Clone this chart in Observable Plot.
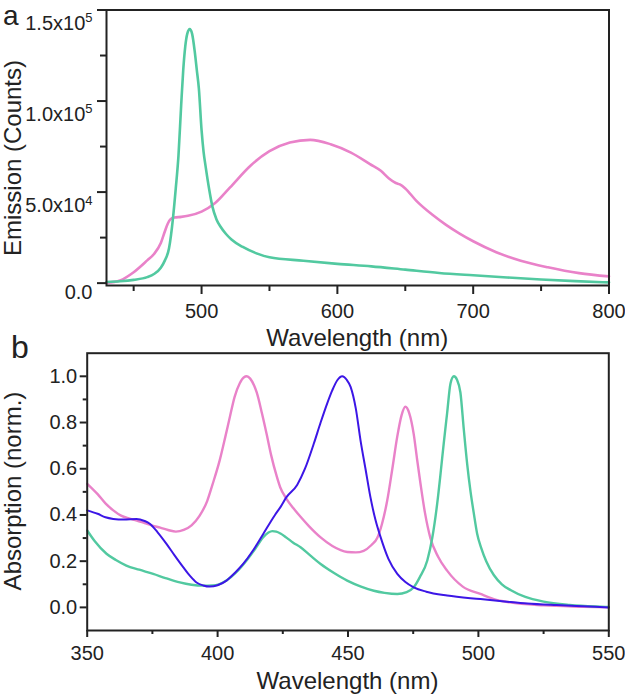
<!DOCTYPE html>
<html><head><meta charset="utf-8">
<script src="https://cdn.jsdelivr.net/npm/d3@7"></script>
<script src="https://cdn.jsdelivr.net/npm/@observablehq/plot@0.6"></script>
<style>
body{margin:0;background:#fff;}
#wrap{position:relative;width:625px;height:696px;font-family:"Liberation Sans",Arial,sans-serif;color:#222;overflow:hidden;}
.lab{position:absolute;white-space:nowrap;line-height:1.15;}
.panel{position:absolute;left:0;}
</style></head><body><div id="wrap"></div>
<script>
// ---------- Panel a: emission ----------
const emGreenNm = [430,440,450,460,465,470,473,476,479,481,483,485,486.5,488,489.5,491.3,493,495,496.5,498,500,501.5,503,505.5,508,511,514,518,522,530,540,550,575,600,625,650,675,700,725,750,775,800];
const emGreenCounts = [600,1000,1800,3300,5000,8500,12500,19000,36000,52000,70000,98000,117000,130000,137000,139500,137000,127000,117000,107000,84000,72000,64000,52000,42000,35000,31000,27000,24000,20000,16500,14200,12300,10600,9200,7400,5600,4300,3100,2000,1100,400];
const emPinkNm = [430,440,450,460,465,470,473,475,477,480,485,490,500,510,521,536,550,565,580,595,610,624,632,638,643,646,650,658,670,680,690,700,717,735,755,778,800];
const emPinkCounts = [200,1500,6000,12500,16000,22000,28500,32500,35000,36000,36400,37000,39300,44000,52600,64500,72500,77200,78700,76300,71700,65400,61700,57500,55000,54200,52000,45300,37500,32000,27200,23000,17000,12300,8700,5500,3700];

const xTicksA = [500,600,700,800];
const xMinorA = [450,550,650,750];
const yTicksA = [0,50000,100000,150000];
const yTickLabelsA = ["0.0","5.0x10^4","1.0x10^5","1.5x10^5"];
const yMinorA = [25000,75000,125000];

// ---------- Panel b: absorption ----------
const absPinkNm = [350,354,357,360,363,366,369,372,375,378,381,384,387,390,393,396,398,400.8,403,404.7,406.5,408.5,410,411.2,412.5,414,415,417,418.8,420.5,422.6,424,426.4,429,431.8,435,439.5,444,449.7,453,456,459,461.2,463,465,467,468.9,470.5,472,473.5,475.2,476.5,477.8,479.5,481.6,484.5,488,494,500.8,505.9,512,525,540,550];
const absPinkVal = [0.535,0.49,0.45,0.42,0.397,0.385,0.376,0.365,0.354,0.345,0.335,0.328,0.335,0.355,0.395,0.46,0.53,0.636,0.74,0.824,0.91,0.97,0.995,1.0,0.99,0.96,0.93,0.84,0.75,0.66,0.57,0.52,0.47,0.43,0.392,0.352,0.303,0.266,0.24,0.238,0.245,0.27,0.30,0.36,0.46,0.6,0.74,0.83,0.868,0.84,0.75,0.64,0.535,0.41,0.30,0.22,0.159,0.09,0.058,0.036,0.022,0.009,0.003,0.0];
const absBlueNm = [350,354,357,360,364,368.9,372,374,377,380.4,383.5,386.8,389.5,391.9,394.5,397,400,403.4,406.5,409.8,413.5,417.5,422,424.1,426.4,430.5,433.5,436.9,439.5,442,444,445.9,447.8,449.5,451,453,454.8,456.7,458.6,460.5,462.5,465.5,468.9,472,475.2,480,488,500.8,510,518.7,530,540,550];
const absBlueVal = [0.42,0.405,0.39,0.383,0.38,0.383,0.374,0.362,0.325,0.275,0.225,0.174,0.135,0.108,0.095,0.09,0.096,0.116,0.148,0.188,0.245,0.318,0.40,0.434,0.477,0.53,0.60,0.709,0.80,0.882,0.94,0.983,1.0,0.985,0.954,0.86,0.723,0.60,0.477,0.38,0.304,0.21,0.145,0.11,0.087,0.068,0.051,0.036,0.026,0.017,0.01,0.005,0.0];
const absGreenNm = [350,353,357.4,361,365,370,375.3,380,385.5,390,394.5,398,400.5,403.4,407,411.1,414.5,417.5,419.5,421,422.5,424.1,426.4,429,431.8,435.5,439.5,444.5,449.7,455,459.9,464,468.9,472.5,475.2,477.5,480.4,482.3,484.2,485.5,486.7,488,489.3,490.6,491.8,493.1,494.4,495.7,497,498.2,499.5,501,503,505.9,509,512.3,518,525,535,545,550];
const absGreenVal = [0.333,0.285,0.232,0.205,0.181,0.163,0.145,0.127,0.108,0.098,0.094,0.095,0.10,0.116,0.15,0.203,0.255,0.304,0.324,0.33,0.328,0.32,0.302,0.28,0.26,0.225,0.188,0.15,0.116,0.09,0.072,0.063,0.058,0.066,0.087,0.13,0.203,0.30,0.449,0.58,0.709,0.84,0.969,1.0,0.985,0.93,0.77,0.62,0.5,0.41,0.32,0.26,0.2,0.14,0.1,0.075,0.045,0.025,0.011,0.004,0.002];

const xTicksB = [350,400,450,500,550];
const xMinorB = [375,425,475,525];
const yTicksB = [0,0.2,0.4,0.6,0.8,1.0];
const yTickLabelsB = ["0.0","0.2","0.4","0.6","0.8","1.0"];
const yMinorB = [0.1,0.3,0.5,0.7,0.9];

const GREEN = "#52c9a0", PINK = "#e982c9", BLUE = "#3c16e6", INK = "#222";
const FONT = '"Liberation Sans", Arial, sans-serif';

const zip = (xs, ys) => xs.map((x, i) => ({nm: x, v: ys[i]}));

const wrap = document.getElementById("wrap");

const plotA = Plot.plot({
  width: 625, height: 330,
  marginTop: 9.5, marginBottom: 45, marginLeft: 106, marginRight: 16.5,
  x: {domain: [430, 800]},
  y: {domain: [-1300, 150000]},
  style: {fontFamily: FONT, fontSize: "20px", color: INK, background: "white"},
  marks: [
    Plot.line(zip(emPinkNm, emPinkCounts), {x: "nm", y: "v", stroke: PINK, strokeWidth: 2.6, curve: "monotone-x"}),
    Plot.line(zip(emGreenNm, emGreenCounts), {x: "nm", y: "v", stroke: GREEN, strokeWidth: 2.6, curve: "monotone-x"}),
    Plot.frame({stroke: INK, strokeWidth: 2}),
    Plot.axisX({ticks: xTicksA, tickSize: 9, tickPadding: 9, strokeWidth: 2, tickFormat: d => String(d), label: null}),
    Plot.axisX({ticks: xMinorA, tickSize: 6, strokeWidth: 2, tickFormat: () => "", label: null}),
    Plot.axisY({ticks: yTicksA, tickSize: 9, tickPadding: 5, strokeWidth: 2, tickFormat: (d, i) => yTickLabelsA[yTicksA.indexOf(d)], label: null}),
    Plot.axisY({ticks: yMinorA, tickSize: 6, strokeWidth: 2, tickFormat: () => "", label: null})
  ]
});
plotA.classList.add("panel");
plotA.style.top = "0px";
wrap.appendChild(plotA);

// superscript exponents
d3.select(plotA).selectAll('g[aria-label="y-axis tick label"] text').each(function () {
  const t = this.textContent;
  const m = t.match(/^(.*)\^(\d+)$/);
  const s = d3.select(this);
  if (m) {
    s.text(null);
    s.attr("dy", "0.66em");
    s.append("tspan").text(m[1]);
    s.append("tspan").attr("font-size", "13px").attr("dy", "-0.55em").text(m[2]);
  } else if (t) {
    s.attr("dy", "0.47em");
  }
});

const plotB = Plot.plot({
  width: 625, height: 366,
  marginTop: 22.7, marginBottom: 66, marginLeft: 86.7, marginRight: 16.7,
  x: {domain: [350, 550]},
  y: {domain: [-0.1, 1.1]},
  style: {fontFamily: FONT, fontSize: "20px", color: INK, background: "white"},
  marks: [
    Plot.line(zip(absPinkNm, absPinkVal), {x: "nm", y: "v", stroke: PINK, strokeWidth: 2.4, curve: "monotone-x"}),
    Plot.line(zip(absGreenNm, absGreenVal), {x: "nm", y: "v", stroke: GREEN, strokeWidth: 2.4, curve: "monotone-x"}),
    Plot.line(zip(absBlueNm, absBlueVal), {x: "nm", y: "v", stroke: BLUE, strokeWidth: 2.0, curve: "monotone-x"}),
    Plot.frame({stroke: INK, strokeWidth: 2}),
    Plot.axisX({ticks: xTicksB, tickSize: 7, tickPadding: 8, strokeWidth: 2, tickFormat: d => String(d), label: null}),
    Plot.axisX({ticks: xMinorB, tickSize: 4, strokeWidth: 2, tickFormat: () => "", label: null}),
    Plot.axisY({ticks: yTicksB, tickSize: 7, tickPadding: 3, strokeWidth: 2, tickFormat: d => yTickLabelsB[yTicksB.findIndex(t => Math.abs(t - d) < 1e-9)], label: null}),
    Plot.axisY({ticks: yMinorB, tickSize: 4, strokeWidth: 2, tickFormat: () => "", label: null})
  ]
});
plotB.classList.add("panel");
plotB.style.top = "330px";
wrap.appendChild(plotB);

function addLabel(text, css) {
  const d = document.createElement("div");
  d.className = "lab";
  d.textContent = text;
  Object.assign(d.style, css);
  wrap.appendChild(d);
}
addLabel("a", {left: "3px", top: "1px", fontSize: "28px", lineHeight: "1.1"});
addLabel("b", {left: "11px", top: "330px", fontSize: "32px", lineHeight: "1.1"});
addLabel("Emission (Counts)", {left: "13px", top: "158px", fontSize: "24px", lineHeight: "1", transform: "translate(-50%,-50%) rotate(-90deg)"});
addLabel("Absorption (norm.)", {left: "13px", top: "491px", fontSize: "24px", lineHeight: "1", transform: "translate(-50%,-50%) rotate(-90deg)"});
addLabel("Wavelength (nm)", {left: "357.25px", top: "326px", fontSize: "24px", lineHeight: "1", transform: "translateX(-50%)"});
addLabel("Wavelength (nm)", {left: "347.5px", top: "669px", fontSize: "24px", lineHeight: "1", transform: "translateX(-50%)"});
</script>
</body></html>
